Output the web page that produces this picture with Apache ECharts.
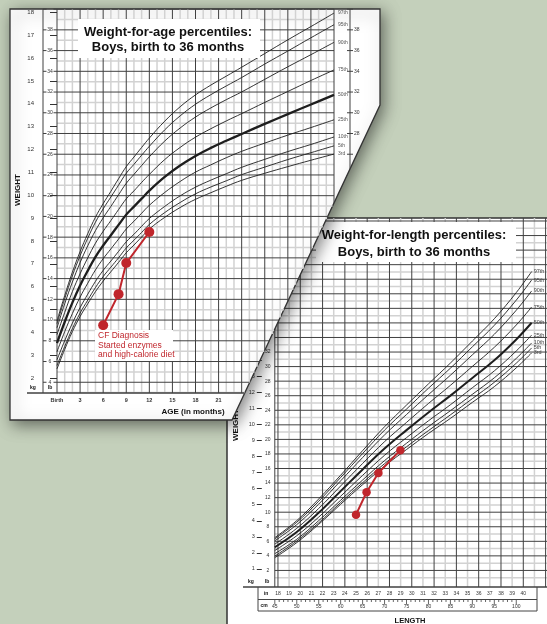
<!DOCTYPE html>
<html><head><meta charset="utf-8">
<script src="https://cdn.jsdelivr.net/npm/echarts@6/dist/echarts.min.js"></script>
<style>html,body{margin:0;padding:0;background:#c4d0bb}#c{width:547px;height:624px}</style>
</head><body><div id="c"></div><script>
const LB = 2.20462;
// ---------- Weight-for-age (kg) ----------
const ageMonths = [0,1,2,3,4,5,6,7,8,9,10,11,12,14,16,18,20,22,24,27,30,33,36];
const wfaP3  = [2.40,3.25,4.03,4.69,5.25,5.78,6.24,6.65,7.06,7.48,7.82,8.17,8.52,9.03,9.46,9.82,10.11,10.39,10.65,10.96,11.25,11.53,11.80];
const wfaP5  = [2.55,3.38,4.16,4.84,5.41,5.96,6.44,6.85,7.26,7.69,8.03,8.37,8.72,9.24,9.68,10.06,10.36,10.63,10.90,11.23,11.56,11.86,12.16];
const wfaP10 = [2.80,3.63,4.40,5.08,5.67,6.23,6.71,7.12,7.54,7.96,8.29,8.64,8.98,9.51,9.97,10.35,10.66,10.94,11.22,11.57,11.91,12.22,12.55];
const wfaP25 = [3.15,4.03,4.82,5.54,6.15,6.73,7.22,7.65,8.08,8.52,8.86,9.21,9.56,10.12,10.60,11.01,11.33,11.64,11.92,12.28,12.63,12.96,13.30];
const wfaP50 = [3.53,4.45,5.30,6.05,6.70,7.30,7.80,8.25,8.70,9.15,9.50,9.85,10.20,10.80,11.30,11.72,12.07,12.38,12.68,13.12,13.55,13.97,14.39];
const wfaP75 = [3.90,4.87,5.78,6.56,7.26,7.90,8.42,8.89,9.37,9.84,10.19,10.56,10.91,11.56,12.09,12.54,12.91,13.25,13.57,14.06,14.54,15.02,15.48];
const wfaP90 = [4.20,5.25,6.20,7.05,7.79,8.45,9.01,9.51,10.02,10.52,10.91,11.30,11.68,12.37,12.94,13.42,13.82,14.18,14.52,15.07,15.62,16.15,16.69];
const wfaP95 = [4.38,5.47,6.47,7.35,8.12,8.82,9.40,9.92,10.44,10.96,11.35,11.75,12.14,12.86,13.47,13.98,14.40,14.78,15.15,15.74,16.31,16.89,17.46];
const wfaP97 = [4.50,5.61,6.63,7.53,8.32,9.04,9.63,10.17,10.72,11.25,11.67,12.09,12.50,13.24,13.87,14.39,14.82,15.21,15.60,16.20,16.80,17.38,17.97];
// ---------- Weight-for-length (kg vs cm) ----------
const lengthCm = [45,50,55,60,65,70,75,80,85,90,95,100,103.5];
const wflP3  = [1.70,2.64,3.78,5.03,6.25,7.41,8.44,9.44,10.38,11.38,12.36,13.53,14.46];
const wflP5  = [1.80,2.74,3.87,5.14,6.37,7.56,8.61,9.62,10.60,11.61,12.63,13.82,14.77];
const wflP10 = [1.95,2.85,4.01,5.28,6.54,7.75,8.83,9.87,10.86,11.88,12.91,14.12,15.08];
const wflP25 = [2.15,3.07,4.23,5.53,6.83,8.08,9.18,10.23,11.23,12.29,13.34,14.58,15.57];
const wflP50 = [2.35,3.30,4.50,5.85,7.20,8.50,9.65,10.75,11.80,12.90,14.00,15.30,16.34];
const wflP75 = [2.55,3.53,4.77,6.17,7.57,8.93,10.13,11.31,12.44,13.62,14.81,16.20,17.32];
const wflP90 = [2.75,3.76,5.04,6.49,7.94,9.35,10.62,11.86,13.07,14.34,15.62,17.12,18.32];
const wflP95 = [2.87,3.91,5.22,6.70,8.19,9.65,10.96,12.26,13.51,14.84,16.18,17.75,19.00];
const wflP97 = [2.95,4.01,5.36,6.84,8.37,9.86,11.21,12.53,13.83,15.20,16.59,18.22,19.53];
const percentileNames = ['3rd','5th','10th','25th','50th','75th','90th','95th','97th'];
// ---------- Patient ----------
const patientAge = [6, 8, 9, 12];
const patientWeightKg = [4.31, 5.67, 7.03, 8.39];
const patientLengthCm = [63.5, 65.9, 68.6, 73.6];
const patientWeightKg2 = [4.38, 5.78, 6.98, 8.40];
const noteLines = ['CF Diagnosis', 'Started enzymes', 'and high-calorie diet'];
// ---------- Tick labels ----------
const monthTicks = [0,3,6,9,12,15,18,21];
const kgTicksAge = [2,3,4,5,6,7,8,9,10,11,12,13,14,15,16,17,18];
const lbTicksAge = [4,6,8,10,12,14,16,18,20,22,24,26,28,30,32,34,36,38];
const lbTicksAgeRight = [28,30,32,34,36,38];
const kgTicksLen = [1,2,3,4,5,6,7,8,9,10,11,12,13,14,15,16,17,18,19,20,21,22];
const lbTicksLen = [2,4,6,8,10,12,14,16,18,20,22,24,26,28,30,32,34,36,38,40,42,44,46,48,50];
const inchTicks = [18,19,20,21,22,23,24,25,26,27,28,29,30,31,32,33,34,35,36,37,38,39,40];
const cmTicks = [45,50,55,60,65,70,75,80,85,90,95,100];

const FF = '"Liberation Sans", Arial, sans-serif';
const RED = '#c0262c';
const DARK = '#404040', LIGHT = '#d2d2d2';
const SLOPE = 148/315;
function diagX(y){ return y <= 105 ? 380 : 380 - (y-105)*SLOPE; }
function clipV(x, y1, y2){ if (x >= 380) return null; const yc = 105 + (380-x)/SLOPE; const yb = Math.min(y2, yc); return yb > y1 ? [x,y1,x,yb] : null; }
function clipH(y, x1, x2){ const xr = Math.min(x2, diagX(y)); return xr > x1 ? [x1,y,xr,y] : null; }
function seg(kids, s, dark, w){ if(!s) return; kids.push({type:'line', shape:{x1:s[0],y1:s[1],x2:s[2],y2:s[3]}, style:{stroke: dark?DARK:LIGHT, lineWidth: w || (dark?1:1.5)}}); }

function renderGrid1(params, api){
  const kids = [];
  const yTop = api.coord([0, 18.149])[1], yBot = api.coord([0, 1.344])[1];
  const xL = api.coord([0, 2])[0], xR = api.coord([36, 2])[0];
  for (let m=0;m<=36;m++) if (m%3) seg(kids, clipV(api.coord([m,2])[0], yTop, yBot), false);
  for (let lb=3; lb<=40; lb+=2){ const y = api.coord([0, lb/LB])[1]; seg(kids, clipH(y, xL, xR), false); }
  for (let lb=4; lb<=40; lb+=2){ const y = api.coord([0, lb/LB])[1];
    seg(kids, clipH(y, xL, xR), true);
    seg(kids, clipH(y, xL-14, xL-10.5), true); seg(kids, clipH(y, xL-3.5, xL), true);
    seg(kids, clipH(y, xR+13, xR+19), true); }
  for (let m=0;m<=36;m+=3) seg(kids, clipV(api.coord([m,2])[0], yTop, yBot), true);
  seg(kids, clipV(xL-14, yTop, yBot), true);
  seg(kids, clipV(xR+16, yTop, yBot), true);
  seg(kids, clipH(yBot, 27, xR), true, 1.3);
  return {type:'group', children:kids};
}
function renderGrid2(params, api){
  const kids = [];
  const yTop = api.coord([45, 22.866])[1], yBot = api.coord([45, -0.125])[1];
  const xL = api.coord([45, 0])[0], xR = 547;
  for (let inch=18; inch<=43; inch++){ if (inch%2) { const x = api.coord([inch*2.54,0])[0]; if (x<548) seg(kids,[x,yTop,x,yBot],false); } }
  for (let lb=1; lb<=50; lb+=2){ const y = api.coord([45, lb/LB])[1]; seg(kids,[xL,y,xR,y],false); }
  for (let lb=2; lb<=50; lb+=2){ const y = api.coord([45, lb/LB])[1]; seg(kids,[xL,y,xR,y],true); }
  for (let inch=18; inch<=43; inch++){ if (!(inch%2)) { const x = api.coord([inch*2.54,0])[0]; if (x<548) seg(kids,[x,yTop,x,yBot],true); } }
  seg(kids,[xL,yTop,xL,yBot],true);
  seg(kids,[243,yBot,xR,yBot],true,1.3);
  for (let cm=45; cm<=100; cm++){ const x = api.coord([cm,0])[0]; seg(kids,[x,599.5,x,599.5+(cm%5?2.5:5)],true,0.8); }
  return {type:'group', children:kids};
}

function lbl(extra){ return Object.assign({fontFamily:FF, color:'#333'}, extra); }
function noAxis(extra){ return Object.assign({type:'value', axisLine:{show:false}, axisTick:{show:false}, splitLine:{show:false}}, extra); }
function txt(text, x, y, font, extra){
  const o = {type:'text', x:x, y:y, z:15, silent:true, style:{text:text, x:0, y:0, font:font, fill:'#111', align:'center', verticalAlign:'middle', textAlign:'center', textVerticalAlign:'middle'}};
  if (extra) { if (extra.style) Object.assign(o.style, extra.style); delete extra.style; Object.assign(o, extra); }
  return o;
}
function line(x1,y1,x2,y2,z){ return {type:'line', z:z, silent:true, shape:{x1,y1,x2,y2}, style:{stroke:'#444', lineWidth:1}}; }

const wfaSets = [wfaP3,wfaP5,wfaP10,wfaP25,wfaP50,wfaP75,wfaP90,wfaP95,wfaP97];
const wflSets = [wflP3,wflP5,wflP10,wflP25,wflP50,wflP75,wflP90,wflP95,wflP97];
const series = [
  {type:'custom', xAxisIndex:0, yAxisIndex:0, z:11, silent:true, clip:false, data:[[0,2]], renderItem:renderGrid1},
  {type:'custom', xAxisIndex:1, yAxisIndex:3, z:2, silent:true, clip:false, data:[[45,1]], renderItem:renderGrid2}
];
percentileNames.forEach((n,k)=>{
  series.push({type:'line', name:n, xAxisIndex:0, yAxisIndex:0, z:12, silent:true, smooth:0.4, showSymbol:false,
    data: ageMonths.map((a,i)=>[a, wfaSets[k][i]]),
    lineStyle:{color:'#1e1e1e', width: n==='50th'?2.3:0.9},
    endLabel:{show:true, formatter:n, fontSize:5, fontFamily:FF, color:'#555', distance:4}});
  series.push({type:'line', name:n+' ', xAxisIndex:1, yAxisIndex:3, z:3, silent:true, smooth:0.4, showSymbol:false,
    data: lengthCm.map((a,i)=>[a, wflSets[k][i]]),
    lineStyle:{color:'#1e1e1e', width: n==='50th'?2:0.9},
    endLabel:{show:true, formatter:n, fontSize:5.5, fontFamily:FF, color:'#444', distance:2}});
});
series.push({type:'line', xAxisIndex:0, yAxisIndex:0, z:13, silent:true, symbol:'circle', symbolSize:10,
  data: patientAge.map((a,i)=>[a, patientWeightKg[i]]), itemStyle:{color:RED}, lineStyle:{color:RED, width:2}});
series.push({type:'line', xAxisIndex:1, yAxisIndex:3, z:4, silent:true, symbol:'circle', symbolSize:8.5,
  data: patientLengthCm.map((a,i)=>[a, patientWeightKg2[i]]), itemStyle:{color:RED}, lineStyle:{color:RED, width:2}});

const TB = 'bold 13px ' + FF;
const graphics = [
  {type:'rect', z:1, silent:true, shape:{x:227, y:218, width:330, height:420}, style:{fill:'#fff', stroke:'#333', lineWidth:1.5}},
  {type:'rect', z:5, silent:true, shape:{x:316, y:222, width:200, height:40}, style:{fill:'#fff'}},
  txt('Weight-for-length percentiles:', 414, 235, TB, {z:6}),
  txt('Boys, birth to 36 months', 414, 252, TB, {z:6}),
  txt('WEIGHT', 236, 425, 'bold 8px '+FF, {z:6, rotation:Math.PI/2}),
  txt('LENGTH', 410, 621, 'bold 7.5px '+FF, {z:6}),
  txt('kg', 251, 582, 'bold 5px '+FF, {z:6}),
  txt('lb', 267, 582, 'bold 5px '+FF, {z:6}),
  txt('in', 266, 594, 'bold 5px '+FF, {z:6}),
  txt('cm', 264, 606, 'bold 5px '+FF, {z:6}),
  line(258,587,258,611,6), line(258,599.5,537,599.5,6), line(258,611,537,611,6), line(537,587,537,611,6),
  {type:'polygon', z:10, silent:true, shape:{points:[[10,9],[380,9],[380,105],[232,420],[10,420]]},
    style:{fill:'#fff', stroke:'#333', lineWidth:1.3, shadowBlur:16, shadowColor:'rgba(0,0,0,0.5)', shadowOffsetX:3, shadowOffsetY:4}},
  {type:'rect', z:14, silent:true, shape:{x:78, y:19, width:182, height:39}, style:{fill:'#fff'}},
  txt('Weight-for-age percentiles:', 168, 32, TB),
  txt('Boys, birth to 36 months', 168, 47, TB),
  txt('WEIGHT', 18, 190, 'bold 8px '+FF, {rotation:Math.PI/2}),
  txt('AGE (in months)', 193, 412, 'bold 8px '+FF),
  txt('kg', 33, 388, 'bold 5px '+FF),
  txt('lb', 50, 388, 'bold 5px '+FF),
  {type:'rect', z:14, silent:true, shape:{x:95, y:330, width:78, height:31}, style:{fill:'#fff'}}
];
noteLines.forEach((t,i)=>graphics.push(txt(t, 98, 336 + i*9.5, '8.5px '+FF, {style:{fill:RED, align:'left', textAlign:'left'}})));

const option = {
  backgroundColor:'#c4d0bb',
  animation:false,
  textStyle:{fontFamily:FF},
  grid:[
    {left:57, top:9, width:277, height:384},
    {left:274.8, top:218, width:274, height:369}
  ],
  xAxis:[
    noAxis({gridIndex:0, min:0, max:36, position:'bottom', z:12,
      axisLabel:lbl({customValues:monthTicks, formatter:v=> v===0?'Birth':String(v), margin:4, fontSize:5.5, fontWeight:'bold'})}),
    noAxis({gridIndex:1, min:45, max:107, position:'bottom', z:3,
      axisLabel:lbl({customValues:cmTicks, margin:17, fontSize:5})}),
    noAxis({gridIndex:1, min:45/2.54, max:107/2.54, position:'bottom', z:3,
      axisLabel:lbl({customValues:inchTicks, margin:4, fontSize:5})})
  ],
  yAxis:[
    noAxis({gridIndex:0, min:1.344, max:18.149, position:'left', offset:14, z:12,
      axisTick:{show:true, customValues:kgTicksAge, length:7, lineStyle:{color:'#333'}},
      axisLabel:lbl({customValues:kgTicksAge, margin:9, fontSize:6})}),
    noAxis({gridIndex:0, min:1.344*LB, max:18.149*LB, position:'left', offset:0, z:12,
      axisLabel:lbl({customValues:lbTicksAge, margin:7, align:'center', fontSize:5})}),
    noAxis({gridIndex:0, min:1.344*LB, max:18.149*LB, position:'right', offset:16, z:12,
      axisLabel:lbl({customValues:lbTicksAgeRight, margin:4, fontSize:5})}),
    noAxis({gridIndex:1, min:-0.125, max:22.866, position:'left', offset:13, z:3,
      axisTick:{show:true, customValues:kgTicksLen, length:5, lineStyle:{color:'#333'}},
      axisLabel:lbl({customValues:kgTicksLen, margin:7, fontSize:5.5})}),
    noAxis({gridIndex:1, min:-0.125*LB, max:22.866*LB, position:'left', offset:0, z:3,
      axisLabel:lbl({customValues:lbTicksLen, margin:7, align:'center', fontSize:5})})
  ],
  graphic:{elements:graphics},
  series:series
};
const chart = echarts.init(document.getElementById('c'));
chart.setOption(option);
</script></body></html>
